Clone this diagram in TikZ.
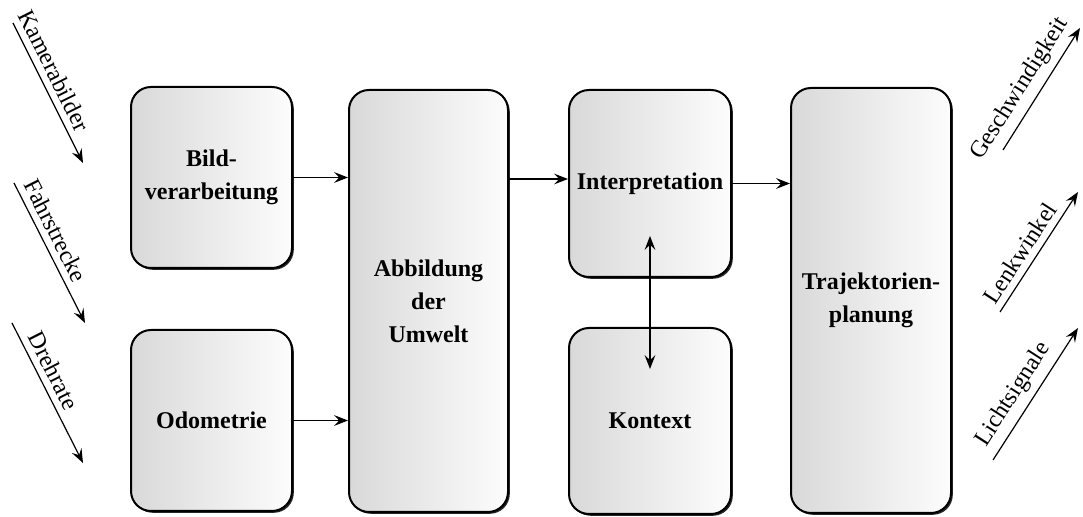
\documentclass[tikz,border=0pt]{standalone}
\usepackage{fontspec}
\setmainfont{Liberation Serif}
\usepackage{tikz}
\usetikzlibrary{arrows.meta,shadows}
\definecolor{myboxleft}{rgb}{0.85,0.85,0.85}
\definecolor{myboxright}{rgb}{0.99,0.99,0.99}

\begin{document}
\begin{tikzpicture}[x=0.5pt,y=-0.5pt,
    modul/.style={draw,line width=1pt,rounded corners=10pt,align=center,
      left color=myboxleft,right color=myboxright,
      font=\fontsize{12}{16.5}\selectfont\bfseries,
      drop shadow={shadow xshift=0.9pt,shadow yshift=-0.9pt,fill=black,opacity=0.85}},
    spitze/.tip={Stealth[length=7pt,width=5.4pt,inset=2.6pt]},
    pfeil/.style={line width=0.6pt,-spitze}]
  \useasboundingbox (0,0) rectangle (1083,517);
  \node[modul,minimum width=80.5pt,minimum height=90.5pt] (bildv) at (211.5,177.5) {Bild-\\verarbeitung};
  \node[modul,minimum width=80.5pt,minimum height=90.5pt] (odom) at (211.5,420.5) {Odometrie};
  \node[modul,minimum width=79.5pt,minimum height=211pt] (umwelt) at (428.5,301) {Abbildung\\der\\Umwelt};
  \node[modul,minimum width=81pt,minimum height=93.5pt] (interp) at (650,183.5) {Interpretation};
  \node[modul,minimum width=81pt,minimum height=93pt] (kontext) at (650,421) {Kontext};
  \node[modul,minimum width=80pt,minimum height=212.5pt] (trajek) at (871,300.5) {Trajektorien-\\planung};
  \draw[pfeil] (bildv.east) -- (bildv.east -| umwelt.west);
  \draw[pfeil] (odom.east) -- (odom.east -| umwelt.west);
  \draw[pfeil] (umwelt.east |- 0,179) -- (interp.west |- 0,179);
  \draw[pfeil] (interp.east) -- (interp.east -| trajek.west);
  \draw[pfeil,spitze-spitze] ([yshift=21pt]interp.south) -- ([yshift=-21pt]kontext.north);
  \foreach \xa/\ya/\xb/\yb/\txt in {13/23/83/163/Kamerabilder,14/183/85/323/Fahrstrecke,12/323/83/463/Drehrate}
    \draw[pfeil] (\xa,\ya) -- node[sloped,above,pos=0.39,font=\fontsize{12}{14}\selectfont] {\txt} (\xb,\yb);
  \foreach \xa/\ya/\xb/\yb/\txt in {1003/150/1080/28/Geschwindigkeit,1000/312/1078/192/Lenkwinkel,993/460/1078/328/Lichtsignale}
    \draw[pfeil] (\xa,\ya) -- node[sloped,above,pos=0.42,font=\fontsize{12}{14}\selectfont] {\txt} (\xb,\yb);
\end{tikzpicture}
\end{document}
